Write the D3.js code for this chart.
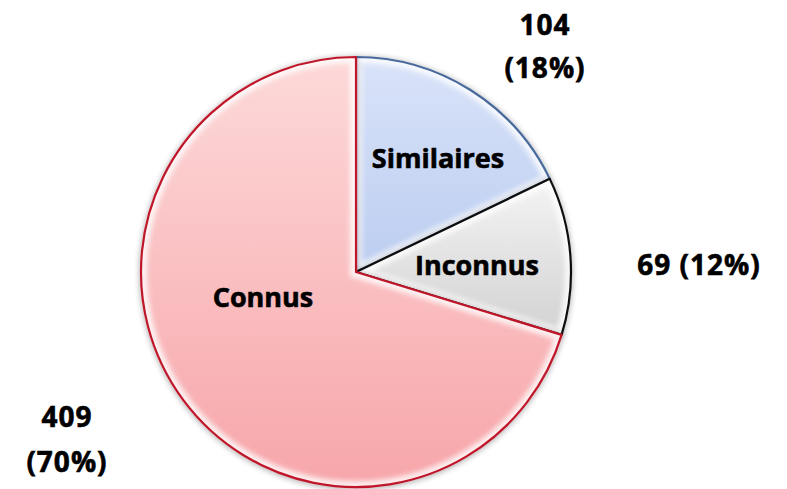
<!DOCTYPE html>
<html>
<head>
<meta charset="utf-8">
<script src="https://cdn.jsdelivr.net/npm/d3@7"></script>
<style>
  body { margin: 0; background: #fff; }
  svg { display: block; }
  text { font-family: "Open Sans", Lato, sans-serif; font-weight: bold; fill: #000; stroke: #000; stroke-width: 0.6; }
</style>
</head>
<body>
<svg id="chart" width="787" height="489"></svg>
<script>
// data
const categories = ["Similaires", "Inconnus", "Connus"];
const counts = [104, 69, 409];
const percents = ["18%", "12%", "70%"];

const fills = {
    "Similaires": ["#d9e3f9", "#bccdf0"],
    "Inconnus": ["#f4f4f4", "#d2d2d2"],
    "Connus": ["#fdd9d9", "#f7a6aa"]
};
const strokes = { "Similaires": "#4a6a9c", "Inconnus": "#111", "Connus": "#c0172b" };

const svg = d3.select("#chart");
const cx = 356, cy = 272, r = 215;

const defs = svg.append("defs");

// soft shadow round the pie
const shadow = defs.append("filter").attr("id", "shadow")
    .attr("x", "-10%").attr("y", "-10%").attr("width", "120%").attr("height", "120%");
shadow.append("feGaussianBlur").attr("in", "SourceAlpha").attr("stdDeviation", 3).attr("result", "b");
shadow.append("feOffset").attr("in", "b").attr("dx", 0).attr("dy", 1).attr("result", "o");
shadow.append("feComponentTransfer").attr("in", "o").attr("result", "s")
    .append("feFuncA").attr("type", "linear").attr("slope", 0.35);
const m = shadow.append("feMerge");
m.append("feMergeNode").attr("in", "s");
m.append("feMergeNode").attr("in", "SourceGraphic");

const blur = defs.append("filter").attr("id", "soft");
blur.append("feGaussianBlur").attr("stdDeviation", 2.5);

categories.forEach(c => {
    const g = defs.append("linearGradient").attr("id", "grad-" + c)
        .attr("x1", 0).attr("y1", 0).attr("x2", 0).attr("y2", 1);
    g.append("stop").attr("offset", "0%").attr("stop-color", fills[c][0]);
    g.append("stop").attr("offset", "100%").attr("stop-color", fills[c][1]);
});

const slices = categories.map((c, i) => ({ name: c, value: counts[i], pct: percents[i] }));

const pie = d3.pie().value(d => d.value).sort(null);
const arc = d3.arc().innerRadius(0).outerRadius(r);
const arcs = pie(slices);

const pieG = svg.append("g").attr("transform", `translate(${cx},${cy})`);

arcs.forEach((d, i) => {
    defs.append("clipPath").attr("id", "clip-" + i)
        .append("path").attr("d", arc(d));
});

const sliceG = pieG.selectAll("g.slice")
    .data(arcs)
    .enter()
    .append("g")
    .attr("class", "slice")
    .attr("filter", "url(#shadow)");

sliceG.append("path")
    .attr("d", arc)
    .attr("fill", d => `url(#grad-${d.data.name})`);

// bevel highlight along the inner edges
sliceG.append("path")
    .attr("d", arc)
    .attr("fill", "none")
    .attr("stroke", "#fff")
    .attr("stroke-opacity", 0.8)
    .attr("stroke-width", 12)
    .attr("filter", "url(#soft)")
    .attr("clip-path", (d, i) => `url(#clip-${i})`);

sliceG.append("path")
    .attr("d", arc)
    .attr("fill", "none")
    .attr("stroke", d => strokes[d.data.name])
    .attr("stroke-width", 2.2)
    .attr("stroke-linejoin", "round");

// category labels inside
const innerPos = { "Similaires": [438, 168], "Inconnus": [477, 275], "Connus": [263, 307] };
svg.selectAll("text.inner")
    .data(slices)
    .enter()
    .append("text")
    .attr("class", "inner")
    .attr("text-anchor", "middle")
    .attr("font-size", 27)
    .attr("x", d => innerPos[d.name][0])
    .attr("y", d => innerPos[d.name][1])
    .text(d => d.name);

// value labels outside
const outerPos = {
    "Similaires": { x: 545, y: [35, 78] },
    "Inconnus": { x: 699, y: [275] },
    "Connus": { x: 67, y: [427, 472] }
};
slices.forEach(d => {
    const p = outerPos[d.name];
    const lines = p.y.length === 1 ? [`${d.value} (${d.pct})`] : [String(d.value), `(${d.pct})`];
    const t = svg.append("text")
        .attr("text-anchor", "middle")
        .attr("font-size", 28)
        .attr("letter-spacing", 1);
    lines.forEach((l, k) => {
        t.append("tspan").attr("x", p.x).attr("y", p.y[k]).text(l);
    });
});
</script>
</body>
</html>
